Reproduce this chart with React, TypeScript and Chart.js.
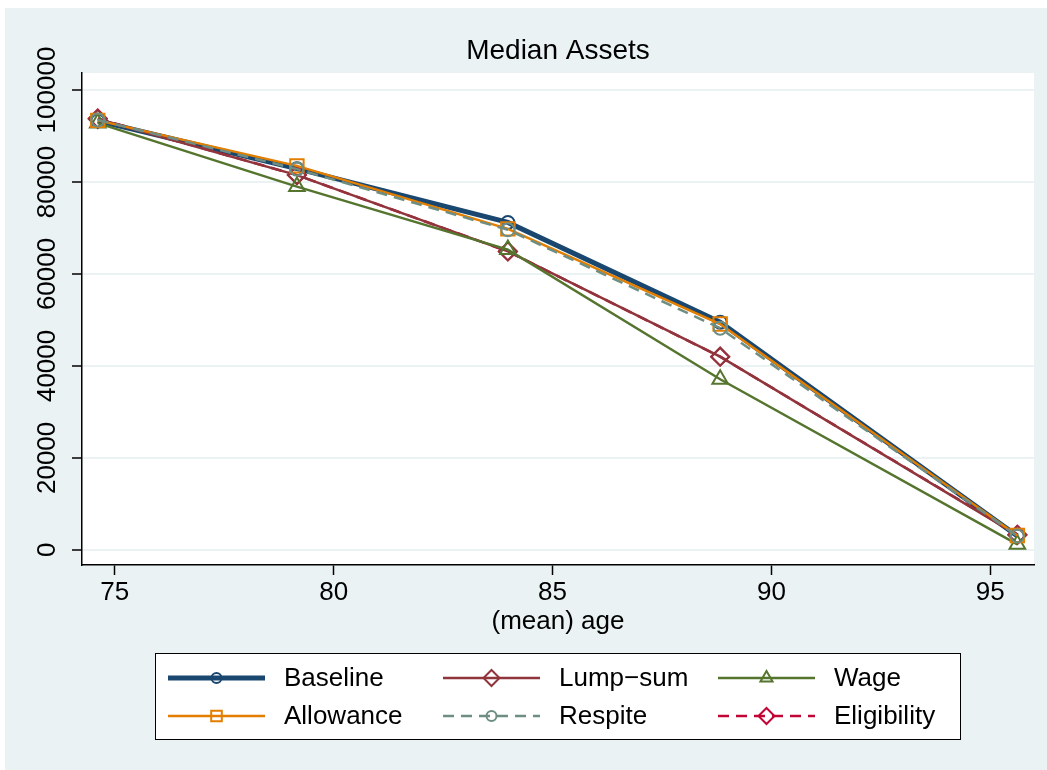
import React, { useEffect, useRef } from "react";
import { Chart, registerables } from "chart.js";

Chart.register(...registerables);

// Mean age of each group (x) and median assets per policy scenario (y)
const ages = [74.61, 79.16, 83.98, 88.83, 95.62];
const baseline = [93300, 82900, 71200, 49500, 3000];
const lumpSum = [93700, 81500, 64900, 42000, 3200];
const wage = [92800, 79000, 65300, 37100, 1200];
const allowance = [93400, 83500, 69800, 49100, 3100];
const respite = [93500, 82800, 69600, 48200, 3000];
const eligibility = [93800, 81500, 64900, 42000, 3300];

const xTicks = [75, 80, 85, 90, 95];
const yTicks = [0, 20000, 40000, 60000, 80000, 100000];

const W = 1047;
const H = 770;
const FONT = '"Liberation Sans", Arial, Helvetica, sans-serif';
const BG = "#EAF2F3";

type Series = {
  label: string;
  data: number[];
  color: string;
  width: number;
  dash: number[];
  marker: "circle" | "rectRot" | "triangle" | "rect";
  radius: number;
  legendRadius: number;
  order: number;
};

// lower "order" is painted later (on top)
const series: Series[] = [
  { label: "Baseline", data: baseline, color: "#1A476F", width: 5, dash: [], marker: "circle", radius: 6.5, legendRadius: 5, order: 6 },
  { label: "Lump\u2212sum", data: lumpSum, color: "#90353B", width: 2.5, dash: [], marker: "rectRot", radius: 9, legendRadius: 8, order: 4 },
  { label: "Wage", data: wage, color: "#55752F", width: 2.5, dash: [], marker: "triangle", radius: 9, legendRadius: 7, order: 3 },
  { label: "Allowance", data: allowance, color: "#E37E00", width: 2.5, dash: [], marker: "rect", radius: 9.5, legendRadius: 7.5, order: 2 },
  { label: "Respite", data: respite, color: "#6E8E84", width: 2.5, dash: [11, 7], marker: "circle", radius: 6.5, legendRadius: 5, order: 1 },
  { label: "Eligibility", data: eligibility, color: "#C10534", width: 2.5, dash: [11, 7], marker: "rectRot", radius: 9, legendRadius: 8, order: 5 },
];

function drawMarker(ctx: CanvasRenderingContext2D, kind: string, x: number, y: number, r: number) {
  ctx.beginPath();
  if (kind === "circle") {
    ctx.arc(x, y, r, 0, Math.PI * 2);
  } else if (kind === "rectRot") {
    ctx.moveTo(x - r, y);
    ctx.lineTo(x, y - r);
    ctx.lineTo(x + r, y);
    ctx.lineTo(x, y + r);
    ctx.closePath();
  } else if (kind === "triangle") {
    const h = r * 1.5;
    const hw = r * Math.sin(Math.PI / 3);
    ctx.moveTo(x - hw, y + h - r);
    ctx.lineTo(x, y - r);
    ctx.lineTo(x + hw, y + h - r);
    ctx.closePath();
  } else {
    const s = r * Math.SQRT1_2;
    ctx.rect(x - s, y - s, 2 * s, 2 * s);
  }
  ctx.stroke();
}

const framePlugin = {
  id: "stataFrame",
  beforeDraw(chart: any) {
    const { ctx, chartArea: a } = chart;
    ctx.save();
    ctx.fillStyle = "#ffffff";
    ctx.fillRect(0, 0, W, H);
    ctx.fillStyle = BG;
    ctx.fillRect(5, 8, W - 5, H - 8);
    ctx.fillStyle = "#ffffff";
    ctx.fillRect(a.left, a.top, a.right - a.left, a.bottom - a.top);
    ctx.restore();
  },
  afterDraw(chart: any) {
    const { ctx, chartArea: a } = chart;
    const yScale = chart.scales.y;
    const cx = (a.left + a.right) / 2;
    ctx.save();
    ctx.fillStyle = "#000";

    // title
    ctx.font = `28px ${FONT}`;
    ctx.textAlign = "center";
    ctx.textBaseline = "alphabetic";
    ctx.fillText("Median Assets", cx, 59);

    // x axis title
    ctx.font = `26px ${FONT}`;
    ctx.fillText("(mean) age", cx, 629);

    // rotated y tick labels
    ctx.textBaseline = "middle";
    yTicks.forEach((v) => {
      const py = yScale.getPixelForValue(v);
      ctx.save();
      ctx.translate(48, py);
      ctx.rotate(-Math.PI / 2);
      ctx.fillText(String(v), 0, 0);
      ctx.restore();
    });

    // legend
    const bx = 155, by = 653, bw = 806, bh = 87;
    ctx.fillStyle = "#fff";
    ctx.fillRect(bx, by, bw, bh);
    ctx.strokeStyle = "#000";
    ctx.lineWidth = 1;
    ctx.setLineDash([]);
    ctx.strokeRect(bx + 0.5, by + 0.5, bw - 1, bh - 1);

    const colX = [168, 443, 718];
    const rowY = [678, 716];
    series.forEach((s, i) => {
      const x0 = colX[i % 3];
      const y0 = rowY[Math.floor(i / 3)];
      const len = 97;
      ctx.strokeStyle = s.color;
      ctx.lineWidth = s.width;
      ctx.setLineDash(s.dash);
      ctx.beginPath();
      ctx.moveTo(x0, y0);
      ctx.lineTo(x0 + len, y0);
      ctx.stroke();
      ctx.setLineDash([]);
      ctx.lineWidth = 2;
      ctx.fillStyle = "#fff";
      drawMarker(ctx, s.marker, x0 + len / 2, y0, s.legendRadius);
      ctx.fillStyle = "#000";
      ctx.font = `26px ${FONT}`;
      ctx.textAlign = "left";
      ctx.textBaseline = "middle";
      ctx.fillText(s.label, x0 + len + 19, y0 + 1);
    });
    ctx.restore();
  },
};

export default function App() {
  const ref = useRef<HTMLCanvasElement>(null);

  useEffect(() => {
    if (!ref.current) return;
    const chart = new Chart(ref.current, {
      type: "line",
      data: {
        datasets: series.map((s) => ({
          label: s.label,
          data: s.data.map((v, i) => ({ x: ages[i], y: v })),
          borderColor: s.color,
          borderWidth: s.width,
          borderDash: s.dash,
          pointStyle: s.marker,
          pointRadius: s.radius,
          pointBorderColor: s.color,
          pointBackgroundColor: "rgba(0,0,0,0)",
          pointBorderWidth: 2,
          tension: 0,
          fill: false,
          order: s.order,
        })),
      },
      options: {
        responsive: false,
        animation: false,
        devicePixelRatio: 1,
        layout: { padding: { left: 5, right: 13, top: 73, bottom: 165 } },
        plugins: {
          legend: { display: false },
          title: { display: false },
          tooltip: { enabled: false },
        },
        scales: {
          x: {
            type: "linear",
            position: "bottom",
            min: 74.25,
            max: 96.0,
            afterBuildTicks: (scale: any) => {
              scale.ticks = xTicks.map((v) => ({ value: v }));
            },
            afterFit: (scale: any) => {
              scale.height = 40;
            },
            grid: {
              drawOnChartArea: false,
              drawTicks: true,
              tickLength: 10,
              tickColor: "#000",
              tickWidth: 1.5,
            },
            border: { display: true, color: "#000", width: 1.5 },
            ticks: {
              color: "#000",
              font: { family: FONT, size: 26 },
              padding: 2,
              maxRotation: 0,
              minRotation: 0,
              callback: (v: any) => String(v),
            },
          },
          y: {
            type: "linear",
            min: -3300,
            max: 103700,
            afterBuildTicks: (scale: any) => {
              scale.ticks = yTicks.map((v) => ({ value: v }));
            },
            afterFit: (scale: any) => {
              scale.width = 77;
            },
            grid: {
              color: BG,
              lineWidth: 2,
              drawTicks: true,
              tickLength: 10,
              tickColor: "#000",
              tickWidth: 1.5,
            },
            border: { display: true, color: "#000", width: 1.5 },
            ticks: { display: false },
          },
        },
      },
      plugins: [framePlugin],
    });
    return () => chart.destroy();
  }, []);

  return (
    <div style={{ position: "absolute", left: 0, top: 0, width: W, height: H }}>
      <canvas ref={ref} width={W} height={H} style={{ width: W, height: H, display: "block" }} />
    </div>
  );
}
